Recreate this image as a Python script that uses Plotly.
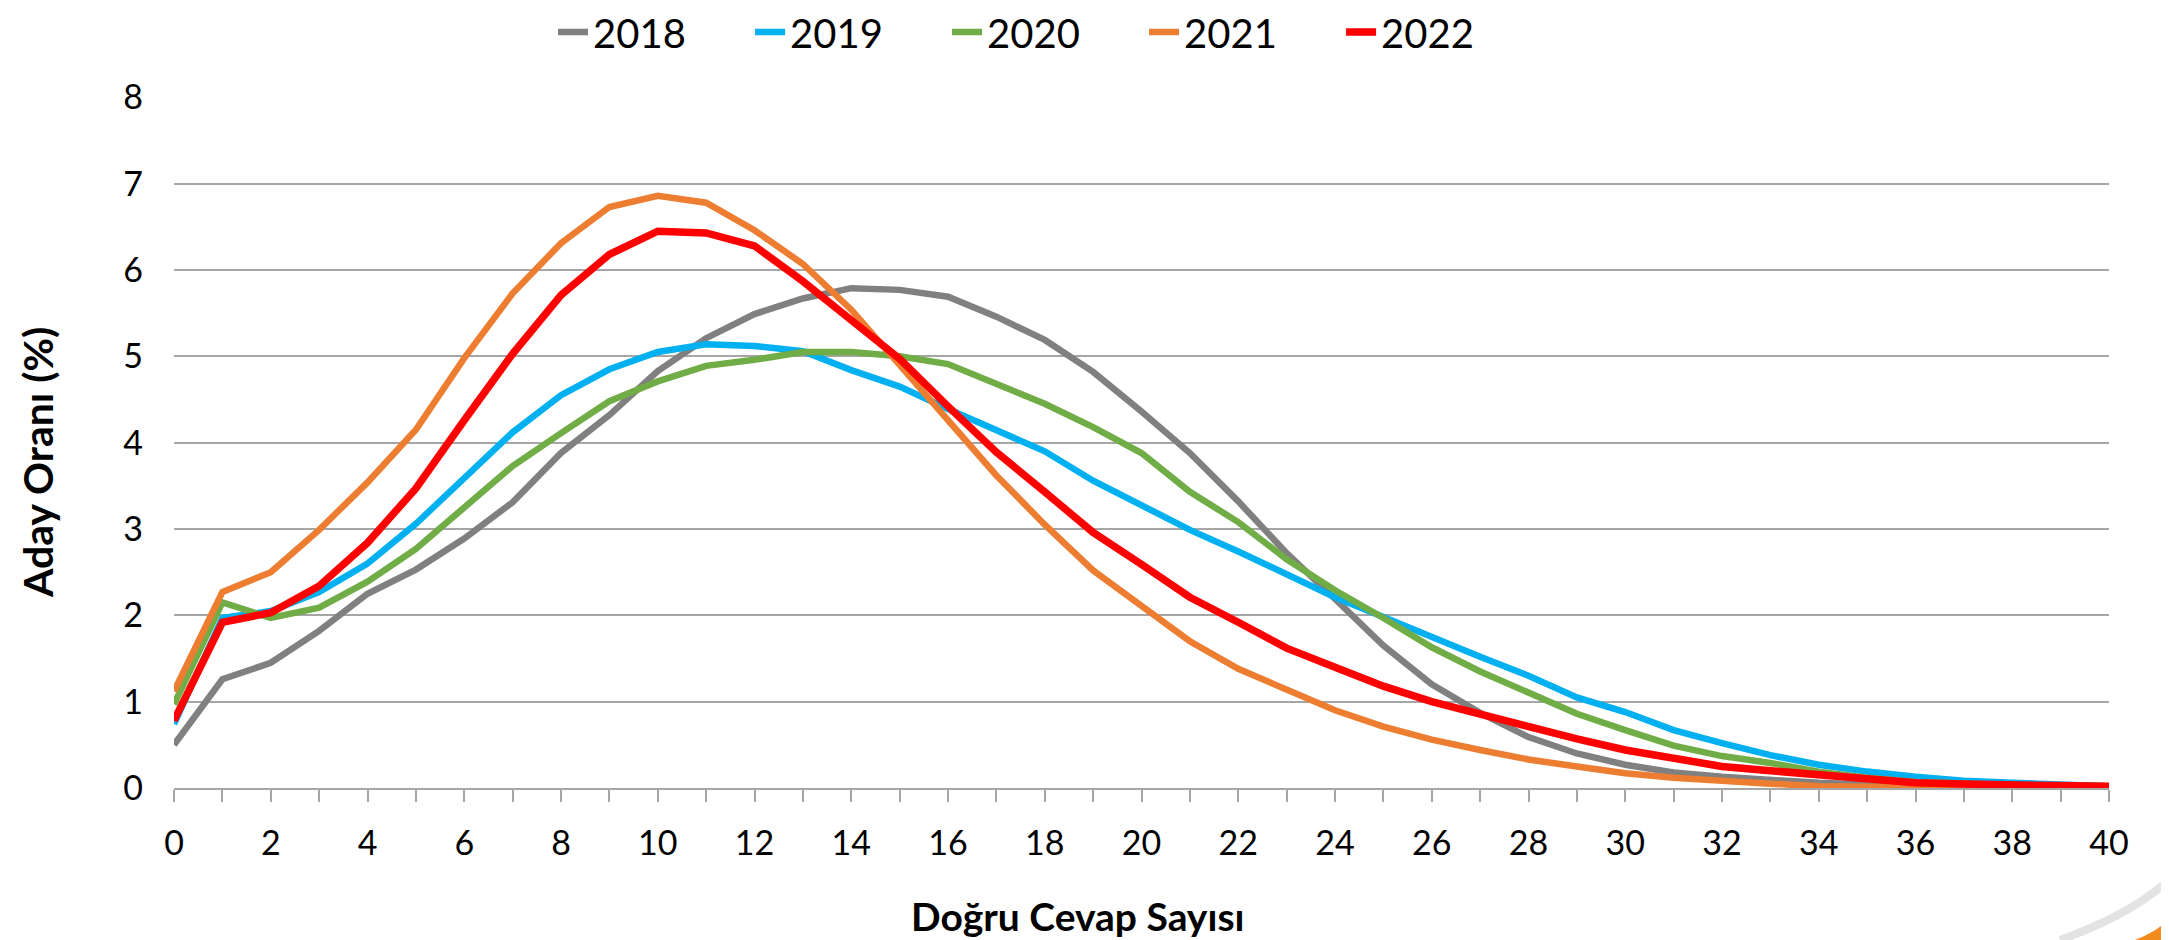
import plotly.graph_objects as go

W, H = 2169, 940

# ---------------- data ----------------
dogru_cevap = list(range(0, 41))
years = ["2018", "2019", "2020", "2021", "2022"]

v2018 = [0.50, 1.26, 1.45, 1.82, 2.25, 2.53, 2.89, 3.31, 3.88, 4.32, 4.83, 5.21, 5.49, 5.67, 5.79, 5.77,
         5.69, 5.46, 5.19, 4.82, 4.36, 3.88, 3.32, 2.72, 2.19, 1.65, 1.20, 0.87, 0.59, 0.40, 0.27, 0.18,
         0.13, 0.09, 0.06, 0.04, 0.02, 0.015, 0.01, 0.01, 0.01]
v2019 = [0.74, 1.97, 2.05, 2.27, 2.60, 3.06, 3.59, 4.12, 4.55, 4.85, 5.05, 5.14, 5.12, 5.06, 4.84, 4.65,
         4.39, 4.15, 3.90, 3.56, 3.27, 2.99, 2.74, 2.47, 2.21, 1.98, 1.74, 1.52, 1.30, 1.05, 0.88, 0.67,
         0.52, 0.38, 0.27, 0.19, 0.13, 0.085, 0.06, 0.04, 0.02]
v2020 = [0.97, 2.15, 1.97, 2.09, 2.39, 2.77, 3.25, 3.73, 4.11, 4.48, 4.71, 4.89, 4.96, 5.05, 5.05, 5.00,
         4.91, 4.67, 4.45, 4.18, 3.88, 3.43, 3.08, 2.65, 2.29, 1.97, 1.63, 1.35, 1.10, 0.86, 0.67, 0.49,
         0.37, 0.29, 0.19, 0.12, 0.07, 0.045, 0.035, 0.03, 0.02]
v2021 = [1.12, 2.27, 2.50, 2.99, 3.54, 4.15, 4.98, 5.73, 6.31, 6.73, 6.86, 6.78, 6.46, 6.07, 5.54, 4.90,
         4.24, 3.62, 3.05, 2.52, 2.11, 1.70, 1.38, 1.13, 0.90, 0.71, 0.56, 0.44, 0.33, 0.25, 0.17, 0.12,
         0.08, 0.05, 0.02, 0.01, 0.01, 0.01, 0.01, 0.01, 0.01]
v2022 = [0.78, 1.92, 2.03, 2.34, 2.84, 3.47, 4.26, 5.03, 5.71, 6.18, 6.45, 6.43, 6.28, 5.87, 5.42, 4.97,
         4.42, 3.89, 3.43, 2.96, 2.59, 2.21, 1.92, 1.62, 1.40, 1.18, 1.00, 0.85, 0.70, 0.57, 0.44, 0.34,
         0.25, 0.20, 0.15, 0.09, 0.06, 0.045, 0.035, 0.03, 0.02]

x_tick_vals = list(range(0, 41, 2))
y_tick_vals = list(range(0, 9))

series = [v2018, v2019, v2020, v2021, v2022]
colors = ["#808080", "#00B0F0", "#70AD47", "#ED7D31", "#FF0000"]
widths = [6.5, 6.5, 6.5, 6.5, 7.5]

x_title = "Doğru Cevap Sayısı"
y_title = "Aday Oranı (%)"

# ---------------- layout geometry (page pixels) ----------------
OFF = 8  # default body margin of the html page
ML, MR, MT, MB = 174, 60, 97, 152
PW, PH = W - ML - MR, H - MT - MB

FONT = "Lato, 'Open Sans', sans-serif"

fig = go.Figure()
for name, vals, c, w in zip(years, series, colors, widths):
    fig.add_trace(go.Scatter(
        x=dogru_cevap, y=vals, name=name, mode="lines",
        line=dict(color=c, width=w),
    ))


def px2paper(px, py):
    return (px - ML) / PW, (H - MB - py) / PH


# decorative corner swoosh (bottom-right)
pts = [px2paper(2060, 940), px2paper(2130, 915), px2paper(2169, 880)]
fig.add_shape(type="path", xref="paper", yref="paper",
              path="M {:.4f},{:.4f} Q {:.4f},{:.4f} {:.4f},{:.4f}".format(*pts[0], *pts[1], *pts[2]),
              line=dict(color="rgba(200,200,200,0.5)", width=8), layer="below")
o = [px2paper(2135, 940), px2paper(2160, 930), px2paper(2169, 918), px2paper(2169, 940)]
fig.add_shape(type="path", xref="paper", yref="paper",
              path="M {:.4f},{:.4f} Q {:.4f},{:.4f} {:.4f},{:.4f} L {:.4f},{:.4f} Z".format(
                  *o[0], *o[1], *o[2], *o[3]),
              fillcolor="#F28C1E", line=dict(width=0), layer="above")

fig.update_layout(
    width=W, height=H,
    margin=dict(l=ML - OFF, r=MR + OFF, t=MT - OFF, b=MB + OFF, autoexpand=False),
    paper_bgcolor="white", plot_bgcolor="white",
    font=dict(family=FONT, color="black", size=34),
    showlegend=True,
    legend=dict(
        orientation="h", xref="container", yref="container",
        x=0.2513, xanchor="left", y=1 - 24 / H, yanchor="middle",
        font=dict(size=40, family=FONT, color="black"),
        entrywidth=152, entrywidthmode="pixels",
        bgcolor="rgba(0,0,0,0)", itemwidth=30, tracegroupgap=0,
    ),
    xaxis=dict(
        range=[0, 40], tickmode="array", tickvals=x_tick_vals,
        ticktext=[str(v) for v in x_tick_vals],
        ticks="outside", ticklen=12, tickwidth=1.5, tickcolor="#A6A6A6",
        minor=dict(dtick=1, ticks="outside", ticklen=12, tickwidth=1.5, tickcolor="#A6A6A6"),
        showline=True, linecolor="#A6A6A6", linewidth=1.5,
        showgrid=False, zeroline=False,
        tickfont=dict(size=34, family=FONT, color="black"),
        ticklabelstandoff=12,
    ),
    yaxis=dict(
        range=[0, 8.004], tickmode="array", tickvals=y_tick_vals,
        ticktext=[str(v) for v in y_tick_vals],
        showgrid=True, gridcolor="#A6A6A6", gridwidth=1.5,
        zeroline=False, showline=False, ticks="",
        tickfont=dict(size=34, family=FONT, color="black"),
        ticklabelstandoff=30,
    ),
    annotations=[
        dict(text="<b>" + x_title + "</b>", xref="paper", yref="paper",
             x=(1077 - ML) / PW, y=(H - MB - 916) / PH, xanchor="center", yanchor="middle",
             showarrow=False, font=dict(size=39, family=FONT, color="black")),
        dict(text="<b>" + y_title + "</b>", xref="paper", yref="paper",
             x=(37 - ML) / PW, y=(H - MB - 463) / PH, xanchor="center", yanchor="middle",
             textangle=-90, showarrow=False, font=dict(size=41, family=FONT, color="black")),
    ],
)

fig.write_html("out.html")
